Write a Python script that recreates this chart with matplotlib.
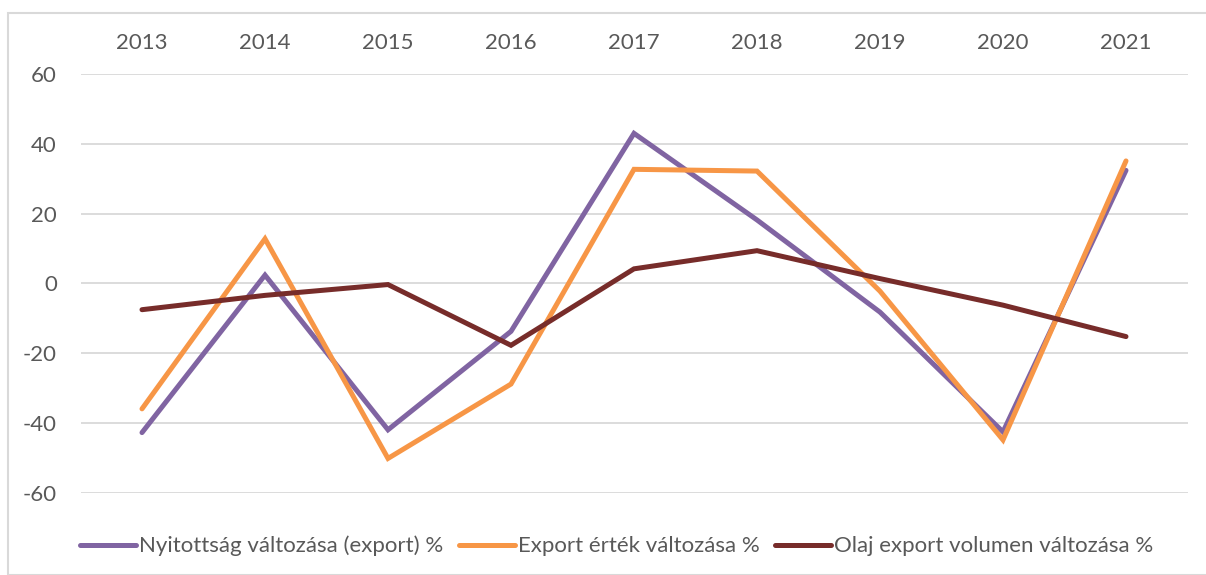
import numpy as np
import matplotlib.pyplot as plt
from matplotlib.patches import Rectangle

plt.rcParams['font.family'] = ['Lato', 'DejaVu Sans']
plt.rcParams['axes.unicode_minus'] = False

years = ['2013', '2014', '2015', '2016', '2017', '2018', '2019', '2020', '2021']
nyitottsag = [-42.7, 2.4, -41.9, -13.7, 43.0, 18.2, -8.2, -42.5, 32.4]
export_ertek = [-35.9, 12.8, -50.1, -28.8, 32.7, 32.2, -2.2, -44.8, 35.1]
olaj_volumen = [-7.5, -3.4, -0.3, -17.7, 4.2, 9.4, 1.4, -6.2, -15.2]

labels = ['Nyitottság változása (export) %',
          'Export érték változása %',
          'Olaj export volumen változása %']
colors = ['#8064A2', '#F79646', '#772C2A']
txt = '#595959'

W, H = 1206, 575
fig = plt.figure(figsize=(W / 100, H / 100), dpi=100)

# chart border
fig.patches.append(Rectangle((8 / W, 0), 1.2, 1 - 13 / H, transform=fig.transFigure,
                             fill=False, edgecolor='#D9D9D9', linewidth=1.5))

ax = fig.add_axes([80.5 / W, 1 - 493 / H, 1107 / W, 419 / H])
x = np.arange(len(years)) + 0.5
for vals, lab, c in zip([nyitottsag, export_ertek, olaj_volumen], labels, colors):
    ax.plot(x, vals, color=c, lw=3.6, label=lab, solid_capstyle='round',
            solid_joinstyle='miter')

ax.set_xlim(0, len(years))
ax.set_ylim(-60, 60)
ax.set_yticks(np.arange(-60, 61, 20))
ax.set_xticks(x)
ax.set_xticklabels(years)
ax.xaxis.tick_top()
ax.tick_params(axis='x', length=0, pad=15, labelsize=16, labelcolor=txt)
ax.tick_params(axis='y', length=0, pad=17, labelsize=16, labelcolor=txt)
ax.grid(axis='y', color='#D9D9D9', lw=1.3)
ax.set_axisbelow(True)
for s in ax.spines.values():
    s.set_visible(False)

fig.legend(loc='center', bbox_to_anchor=(617 / W, 1 - 546 / H), ncol=3, frameon=False,
           fontsize=16, labelcolor=txt, handlelength=2.5, handletextpad=0.15,
           columnspacing=0.7)

fig.savefig('out.png', dpi=100)
